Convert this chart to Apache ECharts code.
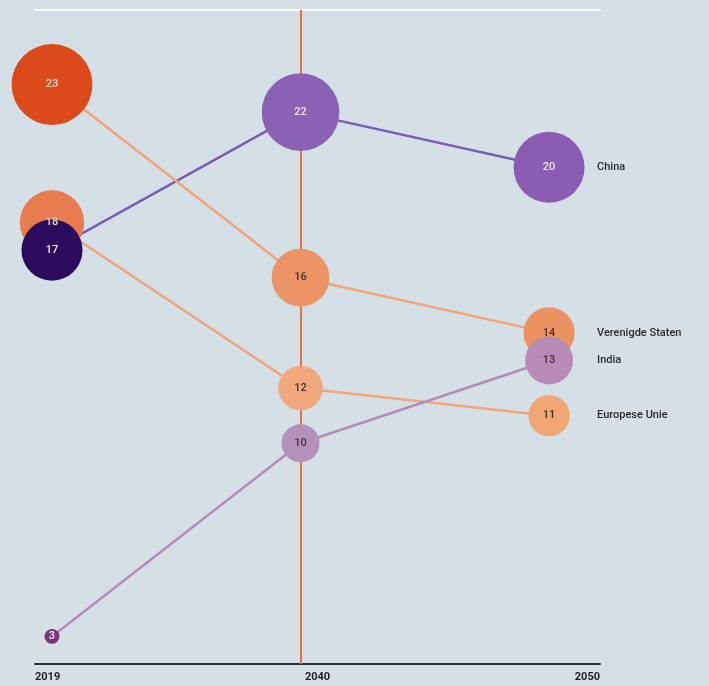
<!DOCTYPE html>
<html>
<head>
<meta charset="utf-8">
<script src="https://cdn.jsdelivr.net/npm/echarts@6/dist/echarts.min.js"></script>
<style>
html,body{margin:0;padding:0;background:#d5dfe6;}
#chart{width:709px;height:686px;}
</style>
</head>
<body>
<div id="chart"></div>
<script>
// ---- data ----
const years = ['2019', '2040', '2050'];
const countries = ['China', 'Verenigde Staten', 'Europese Unie', 'India'];
const china = [17, 22, 20];
const verenigdeStaten = [23, 16, 14];
const europeseUnie = [18, 12, 11];
const india = [3, 10, 13];

// ---- styles ----
const styles = {
  'China': { line: '#7b5cb4', points: ['#2b0c5c', '#8a62b3', '#8a5db2'], text: ['#f2ecf6', '#efe6f5', '#efe6f5'] },
  'Verenigde Staten': { line: '#f0a47a', points: ['#db4a1b', '#eb9566', '#eb9262'], text: ['#f8dccb', '#4a2e22', '#4a2e22'] },
  'Europese Unie': { line: '#f0a47a', points: ['#e97b50', '#f0a97c', '#f0a575'], text: ['#f8d2c0', '#4a2e22', '#4a2e22'] },
  'India': { line: '#b48cba', points: ['#7a3577', '#b391bb', '#b88bb6'], text: ['#f4e6f2', '#4a2e3e', '#4a2e3e'] }
};
const seriesValues = {
  'China': china,
  'Verenigde Staten': verenigdeStaten,
  'Europese Unie': europeseUnie,
  'India': india
};
const sizeOf = v => 3.3 * v + 5;

const lineSeries = [];
const dotSeries = [];
const dotOrder = ['Verenigde Staten', 'Europese Unie', 'India', 'China'];

countries.forEach(name => {
  const vals = seriesValues[name];
  const st = styles[name];
  lineSeries.push({
    type: 'line',
    name: name,
    xAxisIndex: 0,
    data: vals.map((v, i) => [i, v]),
    showSymbol: false,
    symbol: 'none',
    z: 2,
    silent: true,
    lineStyle: { color: st.line, width: 2.5 },
    endLabel: {
      show: true,
      formatter: '{a}',
      distance: 48,
      color: '#2a2a2a',
      fontFamily: 'Roboto',
      fontWeight: 500,
      fontSize: 11
    },
    animation: false
  });
});

dotOrder.forEach(name => {
  const vals = seriesValues[name];
  const st = styles[name];
  dotSeries.push({
    type: 'scatter',
    name: name + ' dots',
    xAxisIndex: 0,
    z: 3,
    data: vals.map((v, i) => ({
      value: [i, v],
      symbolSize: sizeOf(v),
      itemStyle: { color: st.points[i], opacity: 1 },
      label: { color: st.text[i] }
    })),
    label: {
      show: true,
      position: 'inside',
      formatter: p => p.value[1],
      fontFamily: 'Roboto',
      fontWeight: 500,
      fontSize: 11
    },
    animation: false
  });
});

// vertical 2040 line
lineSeries[0].markLine = {
  silent: true,
  symbol: 'none',
  label: { show: false },
  lineStyle: { color: '#e0703f', width: 2, type: 'solid' },
  data: [{ xAxis: 1 }],
  z: 1
};

const option = {
  backgroundColor: '#d5dfe6',
  animation: false,
  grid: { left: 35, right: 109, top: 10, bottom: 22, containLabel: false },
  xAxis: [
    {
      type: 'value',
      min: -0.0684,
      max: 2.205,
      show: false
    },
    {
      type: 'category',
      data: years,
      boundaryGap: false,
      position: 'bottom',
      axisLine: { show: true, lineStyle: { color: '#2e2f38', width: 2 } },
      axisTick: { show: false },
      axisLabel: {
        color: '#1f1f24',
        fontFamily: 'Roboto',
        fontWeight: 'bold',
        fontSize: 11,
        margin: 8,
        alignMinLabel: 'left',
        alignMaxLabel: 'right'
      },
      splitLine: { show: false }
    },
    {
      type: 'category',
      data: years,
      boundaryGap: false,
      position: 'top',
      axisLine: { show: true, lineStyle: { color: '#ffffff', width: 2 } },
      axisTick: { show: false },
      axisLabel: { show: false },
      splitLine: { show: false }
    }
  ],
  yAxis: {
    type: 'value',
    min: 2,
    max: 25.7,
    show: false
  },
  series: lineSeries.concat(dotSeries)
};

const chart = echarts.init(document.getElementById('chart'), null, { renderer: 'canvas' });
chart.setOption(option);
</script>
</body>
</html>
